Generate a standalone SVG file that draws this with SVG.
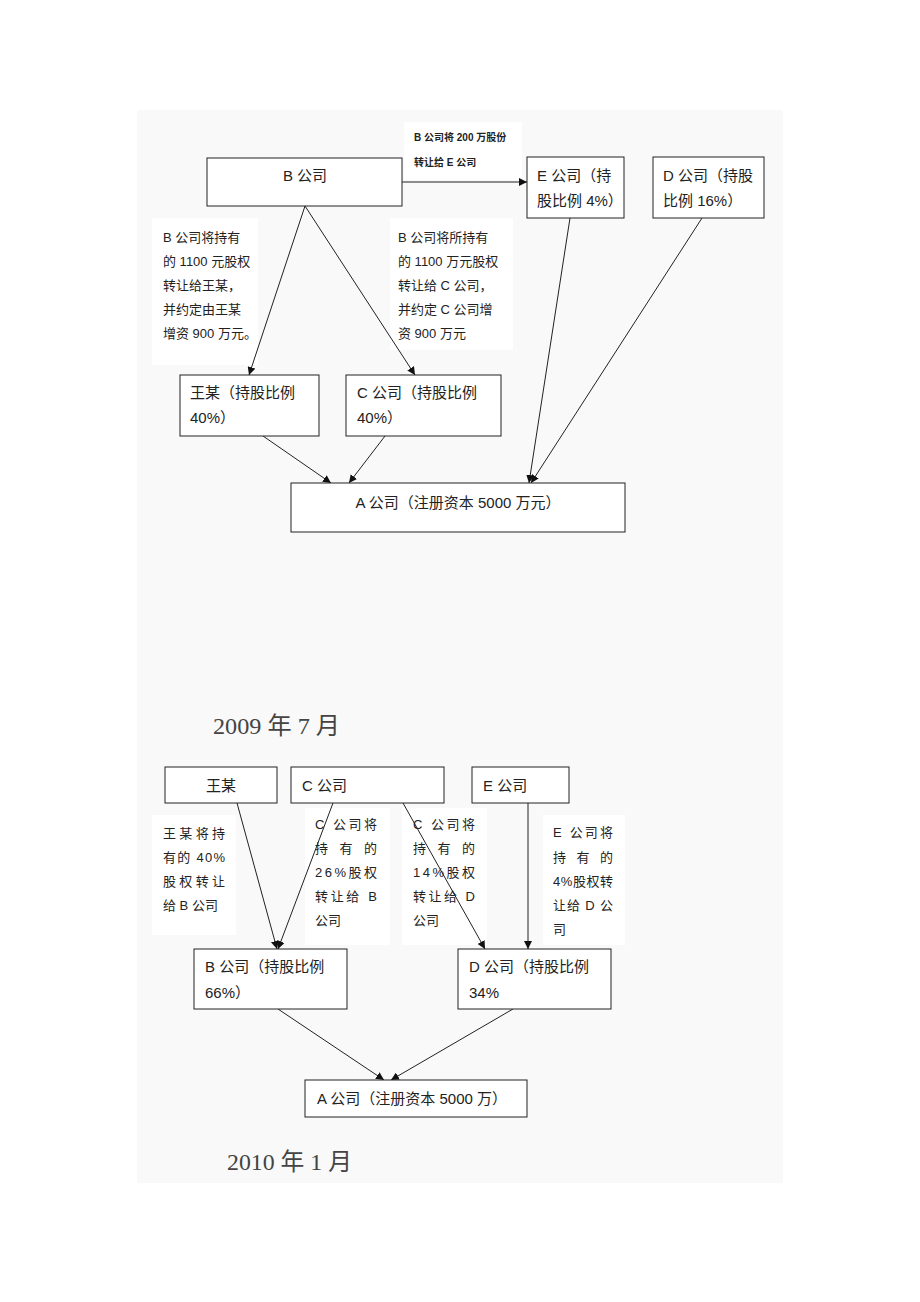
<svg xmlns="http://www.w3.org/2000/svg" width="920" height="1302" viewBox="0 0 920 1302">
<style>
.bg{fill:#f9f9f9}
.lbl{fill:#ffffff}
.box{fill:#ffffff;stroke:#222;stroke-width:1}
.t{font-family:"Liberation Sans","Noto Sans CJK SC",sans-serif;font-size:15px;fill:#222}
.s{font-family:"Liberation Sans","Noto Sans CJK SC",sans-serif;font-size:13px;fill:#222}
.xs{font-family:"Liberation Sans","Noto Sans CJK SC",sans-serif;font-size:10px;font-weight:bold;fill:#222}
.date{font-family:"Liberation Serif","Noto Sans CJK SC",serif;font-size:24px;fill:#444}
.c line{stroke:#222;stroke-width:1}
</style>
<defs>
<marker id="ah" viewBox="0 0 10 10" refX="10" refY="5" markerWidth="8" markerHeight="8" markerUnits="userSpaceOnUse" orient="auto"><path d="M0,0 L10,5 L0,10 z" fill="#111"/></marker>
</defs>
<rect width="920" height="1302" fill="#ffffff"/>
<rect class="bg" x="137" y="110" width="646" height="1073"/>

<!-- label backgrounds -->
<rect class="lbl" x="404" y="122" width="118" height="58"/>
<rect class="lbl" x="152" y="218" width="106" height="147"/>
<rect class="lbl" x="390" y="218" width="123" height="132"/>
<rect class="lbl" x="152" y="815" width="84" height="120"/>
<rect class="lbl" x="305" y="808" width="85" height="137"/>
<rect class="lbl" x="402" y="808" width="85" height="137"/>
<rect class="lbl" x="543" y="815" width="82" height="130"/>

<!-- labels -->
<g id="lbl-b-e">
<text class="xs" x="414" y="141">B 公司将 200 万股份</text>
<text class="xs" x="414" y="166">转让给 E 公司</text>
</g>
<g id="lbl-b-wang">
<text class="s" x="163" y="242">B  公司将持有</text>
<text class="s" x="163" y="266">的 1100 元股权</text>
<text class="s" x="163" y="290">转让给王某，</text>
<text class="s" x="163" y="314">并约定由王某</text>
<text class="s" x="163" y="338">增资 900 万元。</text>
</g>
<g id="lbl-b-c">
<text class="s" x="398" y="242">B  公司将所持有</text>
<text class="s" x="398" y="266">的 1100 万元股权</text>
<text class="s" x="398" y="290">转让给 C 公司，</text>
<text class="s" x="398" y="314">并约定 C 公司增</text>
<text class="s" x="398" y="338">资 900 万元</text>
</g>
<g id="lbl-wang-b">
<text class="s" x="163" y="838" textLength="62" lengthAdjust="spacing">王某将持</text>
<text class="s" x="163" y="862" textLength="62" lengthAdjust="spacing">有的 40%</text>
<text class="s" x="163" y="886" textLength="62" lengthAdjust="spacing">股权转让</text>
<text class="s" x="163" y="910">给 B 公司</text>
</g>
<g id="lbl-c-b">
<text class="s" x="315" y="829" textLength="62" lengthAdjust="spacing">C 公司将</text>
<text class="s" x="315" y="853" textLength="62" lengthAdjust="spacing">持有的</text>
<text class="s" x="315" y="877" textLength="62" lengthAdjust="spacing">26%股权</text>
<text class="s" x="315" y="901" textLength="62" lengthAdjust="spacing">转让给 B</text>
<text class="s" x="315" y="925">公司</text>
</g>
<g id="lbl-c-d">
<text class="s" x="413" y="829" textLength="62" lengthAdjust="spacing">C 公司将</text>
<text class="s" x="413" y="853" textLength="62" lengthAdjust="spacing">持有的</text>
<text class="s" x="413" y="877" textLength="62" lengthAdjust="spacing">14%股权</text>
<text class="s" x="413" y="901" textLength="62" lengthAdjust="spacing">转让给 D</text>
<text class="s" x="413" y="925">公司</text>
</g>
<g id="lbl-e-d">
<text class="s" x="553" y="837" textLength="60" lengthAdjust="spacing">E 公司将</text>
<text class="s" x="553" y="862" textLength="60" lengthAdjust="spacing">持有的</text>
<text class="s" x="553" y="886" textLength="60" lengthAdjust="spacing">4%股权转</text>
<text class="s" x="553" y="910" textLength="60" lengthAdjust="spacing">让给 D 公</text>
<text class="s" x="553" y="934">司</text>
</g>

<!-- connectors -->
<g id="connectors" class="c">
<line x1="402" y1="182" x2="527" y2="182" marker-end="url(#ah)" style="stroke-width:1.2"/>
<line x1="305" y1="206" x2="249" y2="375" marker-end="url(#ah)"/>
<line x1="305" y1="206" x2="415" y2="375" marker-end="url(#ah)"/>
<line x1="263" y1="436" x2="331" y2="483" marker-end="url(#ah)"/>
<line x1="385" y1="436" x2="349" y2="483" marker-end="url(#ah)"/>
<line x1="570" y1="218" x2="529" y2="483" marker-end="url(#ah)"/>
<line x1="702" y1="218" x2="531" y2="483" marker-end="url(#ah)"/>
<line x1="237" y1="803" x2="277" y2="949" marker-end="url(#ah)"/>
<line x1="333" y1="803" x2="278" y2="949" marker-end="url(#ah)"/>
<line x1="403" y1="803" x2="485" y2="949" marker-end="url(#ah)"/>
<line x1="528" y1="803" x2="528" y2="949" marker-end="url(#ah)"/>
<line x1="278" y1="1009" x2="384" y2="1080" marker-end="url(#ah)"/>
<line x1="513" y1="1009" x2="391" y2="1080" marker-end="url(#ah)"/>
</g>

<!-- 2009 nodes -->
<g id="node-b">
<rect class="box" x="207" y="158" width="195" height="48"/>
<text class="t" x="305" y="181" text-anchor="middle">B 公司</text>
</g>
<g id="node-e">
<rect class="box" x="527" y="157" width="97" height="61"/>
<text class="t" x="537" y="181">E  公司（持</text>
<text class="t" x="537" y="206">股比例 4%）</text>
</g>
<g id="node-d">
<rect class="box" x="653" y="157" width="111" height="61"/>
<text class="t" x="663" y="181">D  公司（持股</text>
<text class="t" x="663" y="206">比例 16%）</text>
</g>
<g id="node-wang">
<rect class="box" x="180" y="375" width="139" height="61"/>
<text class="t" x="190" y="398">王某（持股比例</text>
<text class="t" x="190" y="423">40%）</text>
</g>
<g id="node-c">
<rect class="box" x="346" y="375" width="155" height="61"/>
<text class="t" x="357" y="398">C 公司（持股比例</text>
<text class="t" x="357" y="423">40%）</text>
</g>
<g id="node-a">
<rect class="box" x="291" y="483" width="334" height="49"/>
<text class="t" x="458" y="508" text-anchor="middle">A 公司（注册资本 5000 万元）</text>
</g>
<text class="date" x="213" y="734" textLength="127" lengthAdjust="spacingAndGlyphs">2009 年 7 月</text>

<!-- 2010 nodes -->
<g id="node-wang2">
<rect class="box" x="165" y="767" width="112" height="36"/>
<text class="t" x="221" y="791" text-anchor="middle">王某</text>
</g>
<g id="node-c2">
<rect class="box" x="291" y="767" width="153" height="36"/>
<text class="t" x="302" y="791">C 公司</text>
</g>
<g id="node-e2">
<rect class="box" x="472" y="767" width="97" height="36"/>
<text class="t" x="483" y="791">E 公司</text>
</g>
<g id="node-b2">
<rect class="box" x="194" y="949" width="153" height="60"/>
<text class="t" x="205" y="972">B 公司（持股比例</text>
<text class="t" x="205" y="998">66%）</text>
</g>
<g id="node-d2">
<rect class="box" x="458" y="949" width="153" height="60"/>
<text class="t" x="469" y="972">D 公司（持股比例</text>
<text class="t" x="469" y="998">34%</text>
</g>
<g id="node-a2">
<rect class="box" x="305" y="1080" width="222" height="37"/>
<text class="t" x="317" y="1104">A 公司（注册资本 5000 万）</text>
</g>
<text class="date" x="227" y="1170" textLength="125" lengthAdjust="spacingAndGlyphs">2010 年 1 月</text>
</svg>
